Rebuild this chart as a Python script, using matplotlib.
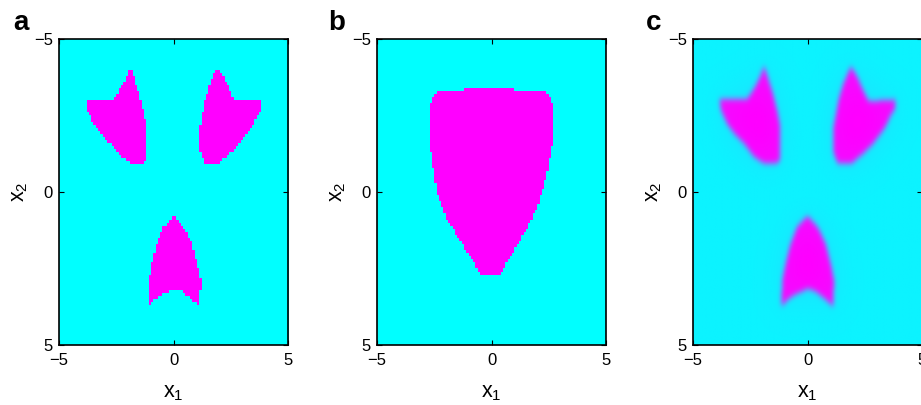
"""Three decision-region maps over (x1, x2): a and b are hard class maps,
c is the smoothed (soft) version of a."""

import matplotlib

matplotlib.use("Agg")
import matplotlib.pyplot as plt
import numpy as np
from matplotlib.path import Path

plt.rcParams["font.family"] = ["Liberation Sans", "DejaVu Sans"]
plt.rcParams["mathtext.default"] = "regular"

# region outlines, in data coords (x1, x2)
upper_left_x = [-1.89, -1.70, -1.48, -1.30, -1.19, -1.19, -1.33, -1.91, -2.35,
                -2.79, -3.22, -3.52, -3.78, -3.84, -2.64, -2.50, -2.28, -2.06]
upper_left_y = [-4.11, -3.67, -3.13, -2.58, -2.14, -1.05, -0.94, -0.94, -1.16,
                -1.60, -1.92, -2.25, -2.69, -3.02, -3.02, -3.18, -3.45, -3.78]

upper_right_x = [1.90, 2.16, 2.45, 2.67, 3.84, 3.84, 3.69, 3.33, 2.89,
                 2.45, 1.94, 1.32, 1.14, 1.14, 1.36, 1.58]
upper_right_y = [-4.11, -3.78, -3.29, -2.96, -3.02, -2.74, -2.58, -2.03, -1.60,
                 -1.27, -0.94, -0.94, -1.27, -2.14, -3.02, -3.56]

lower_x = [0.00, 0.43, 0.79, 1.01, 1.16, 1.13, 0.72, 0.36, 0.00,
           -0.08, -0.52, -0.88, -1.14, -1.10, -0.95, -0.73, -0.44]
lower_y = [0.78, 1.13, 1.68, 2.33, 2.88, 3.75, 3.47, 3.25, 3.15,
           3.20, 3.34, 3.53, 3.75, 2.88, 2.33, 1.68, 1.13]

cone_x = [-1.18, 1.01, 1.01, 2.37, 2.56, 2.74, 2.74, 2.56, 2.37, 2.01, 1.42, 0.84,
          0.33, -0.36, -0.77, -1.20, -1.64, -2.08, -2.37, -2.55, -2.74, -2.74, -2.40, -1.18]
cone_y = [-3.40, -3.40, -3.32, -3.32, -3.12, -2.69, -1.76, -1.16, -0.40, 0.47, 1.35, 2.11,
          2.74, 2.74, 2.33, 1.79, 1.24, 0.69, 0.04, -0.83, -1.65, -2.80, -3.32, -3.32]

# soft map levels for panel c
soft_background = 0.05
soft_peak = 0.88
soft_halo = 0.08

LIM = 5.0


def _mask(polys, n):
    c = np.linspace(-LIM, LIM, n + 1)
    c = 0.5 * (c[:-1] + c[1:])
    gx, gy = np.meshgrid(c, c)
    pts = np.column_stack([gx.ravel(), gy.ravel()])
    m = np.zeros(gx.size, dtype=bool)
    for px, py in polys:
        m |= Path(np.column_stack([px, py])).contains_points(pts)
    return m.reshape(gx.shape).astype(float)


def _blur(img, sigma_cells):
    r = int(3 * sigma_cells) + 1
    k = np.exp(-0.5 * (np.arange(-r, r + 1) / sigma_cells) ** 2)
    k /= k.sum()
    pad = np.pad(img, r, mode="edge")
    out = np.apply_along_axis(lambda v: np.convolve(v, k, mode="valid"), 0, pad)
    out = np.apply_along_axis(lambda v: np.convolve(v, k, mode="valid"), 1, out)
    return out


def _style(ax, letter, fig, x_fig):
    ax.set_xlim(-LIM, LIM)
    ax.set_ylim(LIM, -LIM)
    ax.set_xticks([-5, 0, 5])
    ax.set_yticks([-5, 0, 5])
    ax.tick_params(direction="in", top=True, right=True, length=3.5, width=0.8,
                   labelsize=12, colors="black")
    ax.tick_params(axis="x", pad=6)
    ax.tick_params(axis="y", pad=4.5)
    for s in ax.spines.values():
        s.set_linewidth(1.2)
    ax.set_xlabel("$x_1$", fontsize=15.5)
    ax.set_ylabel("$x_2$", fontsize=15.5)
    ax.xaxis.set_label_coords(0.5, -0.12)
    ax.yaxis.set_label_coords(-0.125, 0.5)
    fig.text(x_fig, 0.926, letter, fontsize=20, fontweight="bold", va="baseline")


three = [(upper_left_x, upper_left_y), (upper_right_x, upper_right_y), (lower_x, lower_y)]
hard_a = _mask(three, 100)
hard_b = _mask([(cone_x, cone_y)], 100)

fine = _mask(three, 300)
soft_c = (soft_background + soft_peak * _blur(fine, 3.0)
          + soft_halo * _blur(fine, 18.0))
soft_c = np.clip(soft_c, 0, 1)

fig = plt.figure(figsize=(9.21, 4.05), dpi=100)
extent = (-LIM, LIM, LIM, -LIM)
lefts = [59 / 921, 377 / 921, 693 / 921]
letters = ["a", "b", "c"]
letter_x = [13 / 921, 328 / 921, 646 / 921]
images = [(hard_a, "nearest"), (hard_b, "nearest"), (soft_c, "bilinear")]

for left, letter, lx, (img, interp) in zip(lefts, letters, letter_x, images):
    ax = fig.add_axes([left, 60 / 405, 229 / 921, 306 / 405])
    ax.imshow(img, cmap="cool", vmin=0, vmax=1, extent=extent,
              interpolation=interp, aspect="auto")
    _style(ax, letter, fig, lx)

fig.savefig("out.png", dpi=100)
